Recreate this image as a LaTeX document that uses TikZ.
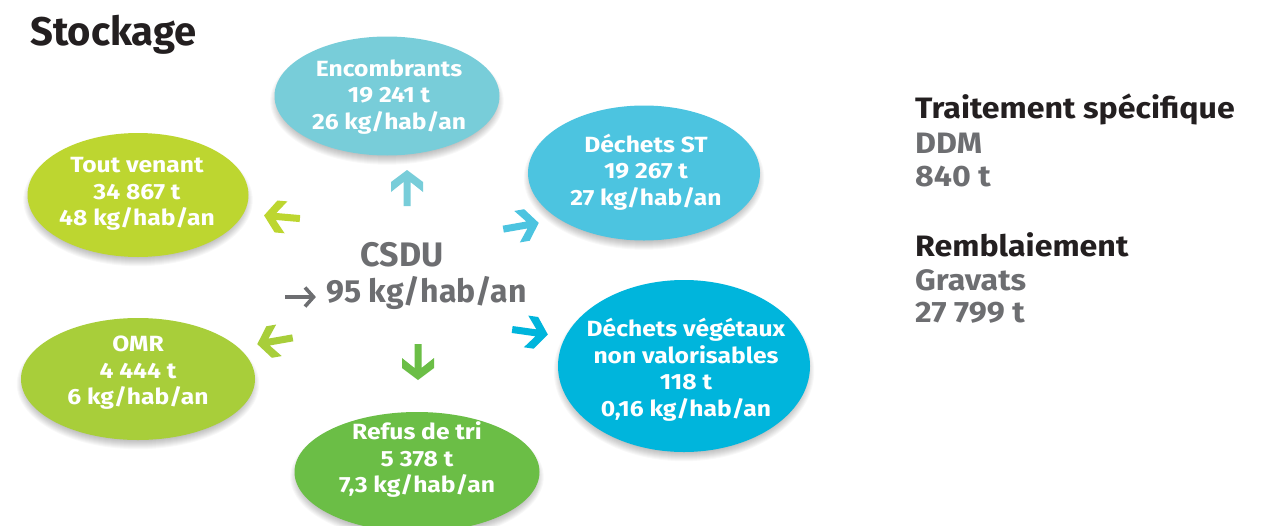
\documentclass[tikz,border=0pt]{standalone}
\usepackage{fontspec}
\setmainfont{Fira Sans}
\newfontfamily\widefont{Fira Sans}[FakeStretch=1.12]
\newfontfamily\sidefont{Fira Sans}[FakeStretch=1.09]
\usetikzlibrary{shapes.geometric,calc}
\pgfdeclarelayer{bg}
\pgfsetlayers{bg,main}
\definecolor{encC}{HTML}{78CDD9}
\definecolor{stC}{HTML}{4CC4E0}
\definecolor{vegC}{HTML}{00B5DC}
\definecolor{tvC}{HTML}{BDD630}
\definecolor{omrC}{HTML}{A8CE3A}
\definecolor{refC}{HTML}{6BBE46}
\definecolor{grayT}{HTML}{6D6E71}
\definecolor{blackT}{HTML}{231F20}
\begin{document}
\begin{tikzpicture}[x=1pt,y=-1pt,
  blob/.style={ellipse, inner sep=0pt, draw=none},
  intxt/.style={text=white, font=\widefont\fontsize{22}{26.5}\selectfont\bfseries, align=center, inner sep=0pt},
  sidehead/.style={anchor=base west, inner sep=0pt, text=blackT, font=\sidefont\fontsize{29.5}{34}\selectfont\bfseries},
  sidesub/.style={anchor=base west, inner sep=0pt, text=grayT, font=\sidefont\fontsize{29.5}{34}\selectfont\bfseries},
  bigarrow/.pic={\fill[pic actions] (18,0) -- (6,16) -- (-4,16) -- (6,3.5) -- (-18,3.5) -- (-18,-3.5) -- (6,-3.5) -- (-4,-16) -- (6,-16) -- cycle;}
]
\useasboundingbox (0,0) rectangle (1276,525);

% title
\node[anchor=base west, inner sep=0pt, text=blackT, font=\fontsize{40}{46}\selectfont\bfseries] (title) at (30,45) {Stockage};

% ellipses
\node[blob, fill=encC, minimum width=225pt, minimum height=119pt] (enc) at (387,96) {};
\node[blob, fill=stC, minimum width=232pt, minimum height=135pt] (st) at (644,173) {};
\node[blob, fill=vegC, minimum width=252pt, minimum height=172pt] (veg) at (684,366) {};
\node[blob, fill=tvC, minimum width=221pt, minimum height=124pt] (tv) at (138,195) {};
\node[blob, fill=omrC, minimum width=234pt, minimum height=122pt] (omr) at (138,379) {};
\node[blob, fill=refC, minimum width=245pt, minimum height=120pt] (ref) at (417,472) {};

% soft shadows behind the ellipses
\begin{pgfonlayer}{bg}
\fill[white] (0,0) rectangle (1276,525);
\foreach \nd in {enc,st,veg,tv,omr,ref} {
  \foreach \k in {1,...,9} {
    \fill[black, opacity=0.028]
      let \p1=(\nd.east), \p2=(\nd.center), \p3=(\nd.south) in
      ([yshift=-5pt]\nd.center) ellipse [x radius={\x1-\x2+\k*1pt-5pt}, y radius={\y2-\y3+\k*1pt-5pt}];
  }
}
\end{pgfonlayer}

% ellipse texts
\node[intxt] (enctxt) at (389,97) {Encombrants\\19 241 t\\26 kg/hab/an};
\node[intxt] (sttxt) at (646,172) {Déchets ST\\19 267 t\\27 kg/hab/an};
\node[intxt] (vegtxt) at (686,370) {Déchets végétaux\\non valorisables\\118 t\\0,16 kg/hab/an};
\node[intxt] (tvtxt) at (137,194) {Tout venant\\34 867 t\\48 kg/hab/an};
\node[intxt] (omrtxt) at (138,373) {OMR\\4 444 t\\6 kg/hab/an};
\node[intxt] (reftxt) at (417,460) {Refus de tri\\5 378 t\\7,3 kg/hab/an};

% centre
\node[anchor=base, inner sep=0pt, text=grayT, font=\fontsize{34}{38}\selectfont\bfseries] (csdu) at (402,266) {CSDU};
\node[anchor=base west, inner sep=0pt, text=grayT, font=\fontsize{32}{38}\selectfont\bfseries] (csdukg) at (326,302) {95 kg/hab/an};
\coordinate (arrs) at (285,297);
\coordinate (arrt) at (315,297);
\draw[grayT, line width=3.6pt] (arrs) -- ([xshift=-2pt]arrt);
\draw[grayT, line width=3.6pt, miter limit=10] ([xshift=-10pt,yshift=-9.5pt]arrt) -- ([xshift=-1.5pt]arrt) -- ([xshift=-10pt,yshift=9.5pt]arrt);

% arrows
\pic[fill=encC, rotate=90] (aenc) at (407,188) {bigarrow};
\pic[fill=tvC, rotate=175] (atv) at (282,217) {bigarrow};
\pic[fill=stC, rotate=10] (ast) at (521,226) {bigarrow};
\pic[fill=omrC, rotate=190] (aomr) at (275,341) {bigarrow};
\pic[fill=refC, rotate=-90] (aref) at (418,362) {bigarrow};
\pic[fill=vegC, rotate=-8] (aveg) at (530,332) {bigarrow};

% right side
\node[sidehead] (trait) at (915,118) {Traitement spécifique};
\node[sidesub] (ddm) at (915,153) {DDM};
\node[sidesub] (ddmt) at (915,186) {840 t};
\node[sidehead] (remb) at (915,256) {Remblaiement};
\node[sidesub] (grav) at (915,290) {Gravats};
\node[sidesub] (gravt) at (915,322) {27 799 t};
\end{tikzpicture}
\end{document}
